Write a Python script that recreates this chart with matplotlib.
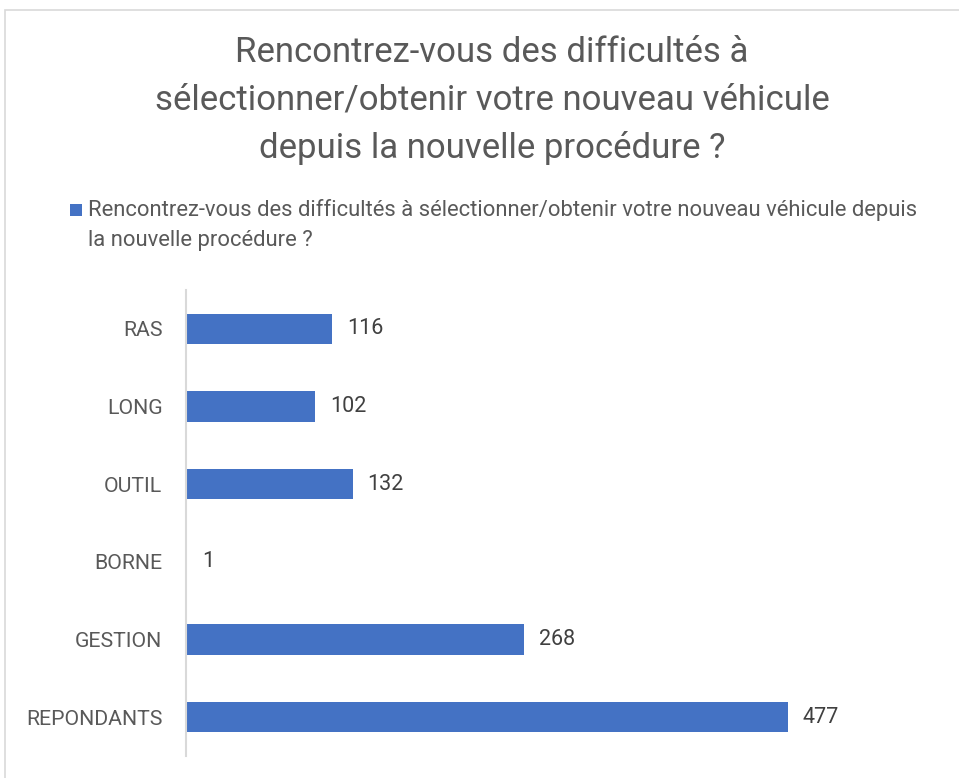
import matplotlib
matplotlib.use("Agg")
import matplotlib.pyplot as plt
from matplotlib.patches import Rectangle

categories = ["RAS", "LONG", "OUTIL", "BORNE", "GESTION", "REPONDANTS"]
values = [116, 102, 132, 1, 268, 477]
title = "Rencontrez-vous des difficultés à\nsélectionner/obtenir votre nouveau véhicule\ndepuis la nouvelle procédure ?"
legend_label = "Rencontrez-vous des difficultés à sélectionner/obtenir votre nouveau véhicule depuis\nla nouvelle procédure ?"

plt.rcParams['font.family'] = ['Roboto', 'DejaVu Sans']
W, H = 959, 778
fig = plt.figure(figsize=(W/100, H/100), dpi=100)
fig.patch.set_facecolor('white')

# chart border
fig.patches.append(Rectangle((5/W, -0.5), 1.2, 1.5 - 10/H, transform=fig.transFigure,
                             fill=False, edgecolor='#d9d9d9', linewidth=1.2))

ax = fig.add_axes([186/W, 1 - 756/H, (943-186)/W, (756-290)/H])
blue = '#4472c4'
grey = '#595959'
y = list(range(len(categories)))
bars = ax.barh(y, values, height=0.39, color=blue)
ax.set_ylim(len(categories) - 0.5, -0.5)
ax.set_xlim(0, 600)
ax.set_yticks(y)
ax.set_yticklabels(categories, fontsize=15.3, color=grey)
ax.tick_params(axis='y', length=0, pad=17)
ax.set_xticks([])
for s in ['top', 'right', 'bottom']:
    ax.spines[s].set_visible(False)
ax.spines['left'].set_color('#d9d9d9')
ax.spines['left'].set_linewidth(1.5)
for b, v in zip(bars, values):
    ax.text(b.get_width() + 12, b.get_y() + b.get_height()/2, str(v),
            va='center', ha='left', fontsize=15.5, color='#404040')

fig.text(492/W, 1 - 36/H, title, ha='center', va='top', fontsize=25,
         color=grey, linespacing=1.55)

fig.patches.append(Rectangle((70/W, 1 - 216/H), 12/W, 12/H, transform=fig.transFigure,
                             facecolor=blue, edgecolor='none'))
fig.text(88/W, 1 - 199/H, legend_label, ha='left', va='top', fontsize=15.8,
         color=grey, linespacing=1.55)

fig.savefig("out.png", dpi=100)
